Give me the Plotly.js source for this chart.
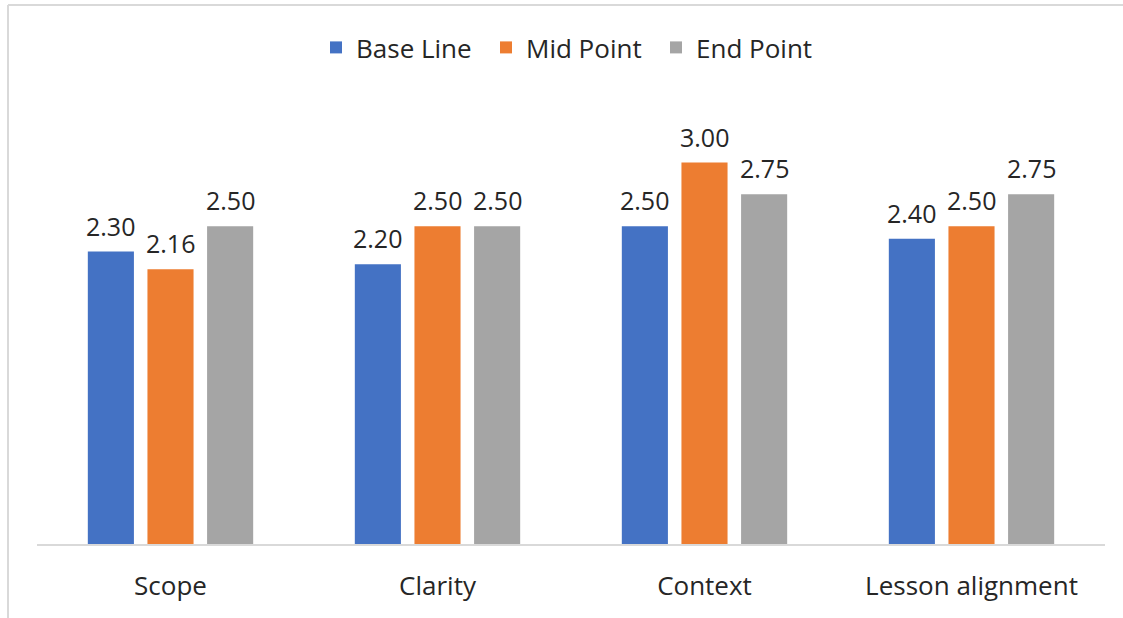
<!DOCTYPE html>
<html>
<head>
<meta charset="utf-8">
<script src="https://cdn.plot.ly/plotly-3.0.1.min.js"></script>
<style>
  html, body { margin: 0; padding: 0; background: #fff; }
  #chart { width: 1123px; height: 618px; }
</style>
</head>
<body>
<div id="chart"></div>
<script>
// ---- data ----
var categories = ["Scope", "Clarity", "Context", "Lesson alignment"];
var baseLine  = [2.30, 2.20, 2.50, 2.40];
var midPoint  = [2.16, 2.50, 3.00, 2.50];
var endPoint  = [2.50, 2.50, 2.75, 2.75];
var seriesNames = ["Base Line", "Mid Point", "End Point"];

// ---- style ----
var colors = ["#4472C4", "#ED7D31", "#A5A5A5"];
var W = 1123, H = 618;
var M = { l: 37, r: 18, t: 99, b: 74 };
var plotW = W - M.l - M.r, plotH = H - M.t - M.b;
var bargap = 0.33, bargroupgap = 0.227;
var fontFam = "'Open Sans', 'Noto Sans', sans-serif";
var textColor = "#262626";

var allSeries = [baseLine, midPoint, endPoint];
var traces = allSeries.map(function (vals, i) {
  return {
    type: "bar",
    name: seriesNames[i],
    x: categories,
    y: vals,
    marker: { color: colors[i] },
    hoverinfo: "x+y+name"
  };
});

// data labels as annotations (offset per series within group)
var catW = plotW / categories.length;
var slotW = catW * (1 - bargap) / allSeries.length;
var annotations = [];
allSeries.forEach(function (vals, i) {
  var shift = (i - (allSeries.length - 1) / 2) * slotW;
  vals.forEach(function (v, j) {
    annotations.push({
      x: categories[j], y: v, xref: "x", yref: "y",
      text: v.toFixed(2), showarrow: false,
      xanchor: "center", yanchor: "bottom",
      xshift: shift, yshift: 7,
      font: { family: fontFam, size: 25, color: textColor }
    });
  });
});

function px2x(px) { return (px - M.l) / plotW; }
function py2y(py) { return (H - M.b - py) / plotH; }

var shapes = [
  { type: "line", xref: "paper", yref: "paper",
    x0: px2x(8), x1: px2x(8), y0: py2y(H), y1: py2y(5),
    line: { color: "#d9d9d9", width: 2 } },
  { type: "line", xref: "paper", yref: "paper",
    x0: px2x(8), x1: px2x(W), y0: py2y(5), y1: py2y(5),
    line: { color: "#d9d9d9", width: 2 } }
];

var layout = {
  width: W, height: H,
  margin: M,
  paper_bgcolor: "#fff", plot_bgcolor: "#fff",
  barmode: "group",
  bargap: bargap,
  bargroupgap: bargroupgap,
  showlegend: true,
  legend: {
    orientation: "h",
    x: 0.5, xanchor: "center",
    y: py2y(24), yanchor: "top",
    font: { family: fontFam, size: 26, color: textColor },
    itemwidth: 30,
    entrywidth: 125,
    entrywidthmode: "pixels",
    traceorder: "normal"
  },
  xaxis: {
    type: "category",
    showline: true, linecolor: "#d9d9d9", linewidth: 1.5,
    ticks: "", showgrid: false, zeroline: false,
    tickfont: { family: fontFam, size: 26, color: textColor },
    ticklabelstandoff: 18
  },
  yaxis: {
    range: [0, 3.5],
    showgrid: false, zeroline: false, showline: false,
    showticklabels: false, ticks: ""
  },
  annotations: annotations,
  shapes: shapes,
  font: { family: fontFam, color: textColor }
};

Plotly.newPlot("chart", traces, layout, { displayModeBar: false, staticPlot: true });
</script>
</body>
</html>
